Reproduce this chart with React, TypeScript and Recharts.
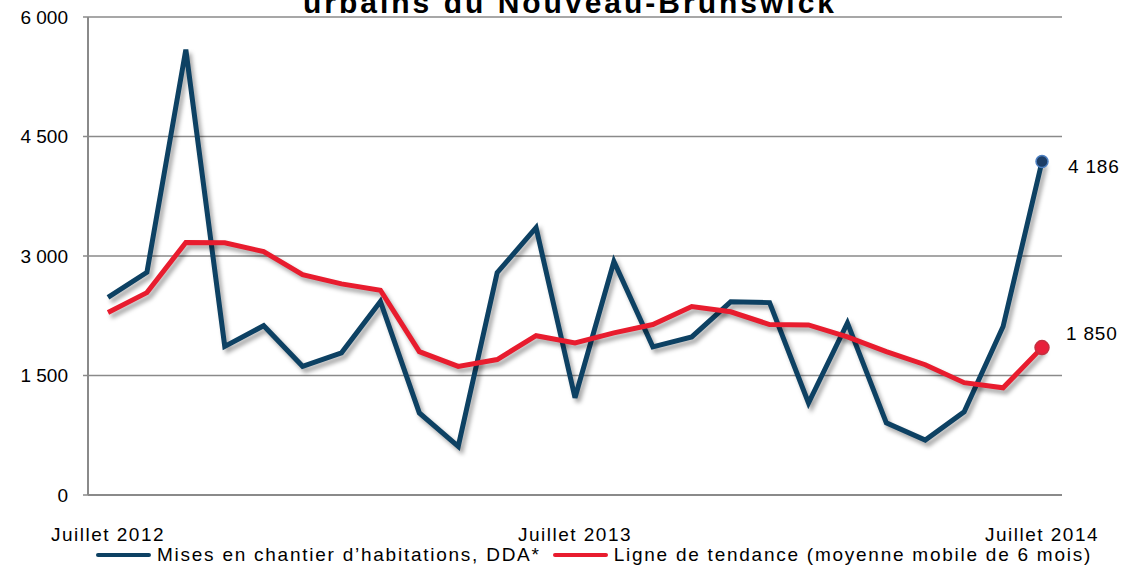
import React from 'react';
import { LineChart, Line, XAxis, YAxis, CartesianGrid, Legend } from 'recharts';

const MONTHS = [
  'Juillet 2012', 'Août 2012', 'Septembre 2012', 'Octobre 2012', 'Novembre 2012', 'Décembre 2012',
  'Janvier 2013', 'Février 2013', 'Mars 2013', 'Avril 2013', 'Mai 2013', 'Juin 2013',
  'Juillet 2013', 'Août 2013', 'Septembre 2013', 'Octobre 2013', 'Novembre 2013', 'Décembre 2013',
  'Janvier 2014', 'Février 2014', 'Mars 2014', 'Avril 2014', 'Mai 2014', 'Juin 2014',
  'Juillet 2014',
];
const STARTS = [2480, 2795, 5590, 1865, 2125, 1615, 1785, 2430, 1030, 610, 2790, 3355, 1220,
  2930, 1860, 1985, 2425, 2415, 1155, 2160, 905, 690, 1045, 2115, 4186];
const TREND = [2290, 2540, 3170, 3165, 3055, 2765, 2650, 2570, 1800, 1615, 1700, 2000, 1910,
  2035, 2140, 2365, 2300, 2140, 2135, 1985, 1800, 1635, 1410, 1345, 1850];
const Y_TICKS = [0, 1500, 3000, 4500, 6000];

const SERIES_LABELS = ['Mises en chantier d\u2019habitations, DDA*', 'Ligne de tendance (moyenne mobile de 6 mois)'];
const TITLE = 'urbains du Nouveau-Brunswick';

const NAVY = '#0d4163';
const RED = '#e81c2e';
const GRID = '#8a8a8a';
const FONT = '"Liberation Sans", Arial, sans-serif';

const data = MONTHS.map((m, i) => ({ month: m, starts: STARTS[i], trend: TREND[i] }));
const LAST = MONTHS.length - 1;

const fmt = (v: number) => String(v).replace(/\B(?=(\d{3})+(?!\d))/g, ' ');

function endDot(fill: string, stroke: string, r: number) {
  return (p: any) =>
    p.index === LAST
      ? <circle key={p.index} cx={p.cx} cy={p.cy} r={r} fill={fill} stroke={stroke} strokeWidth={1.5} />
      : <g key={p.index} />;
}

function endLabel(dx: number, dy: number) {
  return (p: any) =>
    p.index === LAST
      ? <text x={p.x + dx} y={p.y + dy} fontSize={19} fill="#000" fontFamily={FONT} letterSpacing={0.8}>{fmt(p.value)}</text>
      : null;
}

function LegendBox() {
  const sw = (c: string) => <span style={{ display: 'inline-block', width: 55, height: 4, background: c, borderRadius: 2, marginRight: 6 }} />;
  return (
    <div style={{ display: 'flex', alignItems: 'center', height: 24, paddingLeft: 96, fontFamily: FONT, fontSize: 19, letterSpacing: 1.75, color: '#000' }}>
      {sw(NAVY)}<span>{SERIES_LABELS[0]}</span>
      <span style={{ width: 12 }} />
      {sw(RED)}<span>{SERIES_LABELS[1]}</span>
    </div>
  );
}

export default function App() {
  return (
    <div style={{ position: 'fixed', left: 0, top: 0, width: 1129, height: 570, overflow: 'hidden', background: '#fff' }}>
      <style>{'.recharts-line-curve { filter: drop-shadow(3px 4px 2px rgba(0,0,0,0.35)); }'}</style>
      <div style={{ position: 'absolute', left: 0, top: -12, width: 1140, textAlign: 'center', fontFamily: FONT, fontWeight: 'bold', fontSize: 30, lineHeight: '30px', letterSpacing: 3 }}>
        {TITLE}
      </div>
      <LineChart width={1129} height={570} data={data} margin={{ top: 17, right: 67, left: 0, bottom: 3 }}>
        <CartesianGrid vertical={false} stroke={GRID} strokeWidth={1.5} />
        <XAxis dataKey="month" interval={11} padding={{ left: 20, right: 20 }} height={48}
          axisLine={{ stroke: GRID, strokeWidth: 2 }} tickLine={false} tickSize={0} tickMargin={33}
          tick={{ fontSize: 19, fill: '#000', fontFamily: FONT, letterSpacing: 1.5 }} />
        <YAxis domain={[0, 6000]} ticks={Y_TICKS} width={88} tickFormatter={fmt}
          axisLine={{ stroke: GRID, strokeWidth: 2 }} tickLine={{ stroke: GRID, strokeWidth: 1.5 }} tickSize={5} tickMargin={15}
          tick={{ fontSize: 19, fill: '#000', fontFamily: FONT }} />
        <Legend verticalAlign="bottom" content={() => <LegendBox />} wrapperStyle={{ left: 0, width: 1129 }} />
        <Line type="linear" dataKey="starts" stroke={NAVY} strokeWidth={5} isAnimationActive={false}
          dot={endDot('#1d3e66', '#4d7fc0', 6)} activeDot={false} label={endLabel(26, 11)} />
        <Line type="linear" dataKey="trend" stroke={RED} strokeWidth={5} isAnimationActive={false}
          dot={endDot('#e8203a', '#c43040', 7)} activeDot={false} label={endLabel(24, -8)} />
      </LineChart>
    </div>
  );
}
